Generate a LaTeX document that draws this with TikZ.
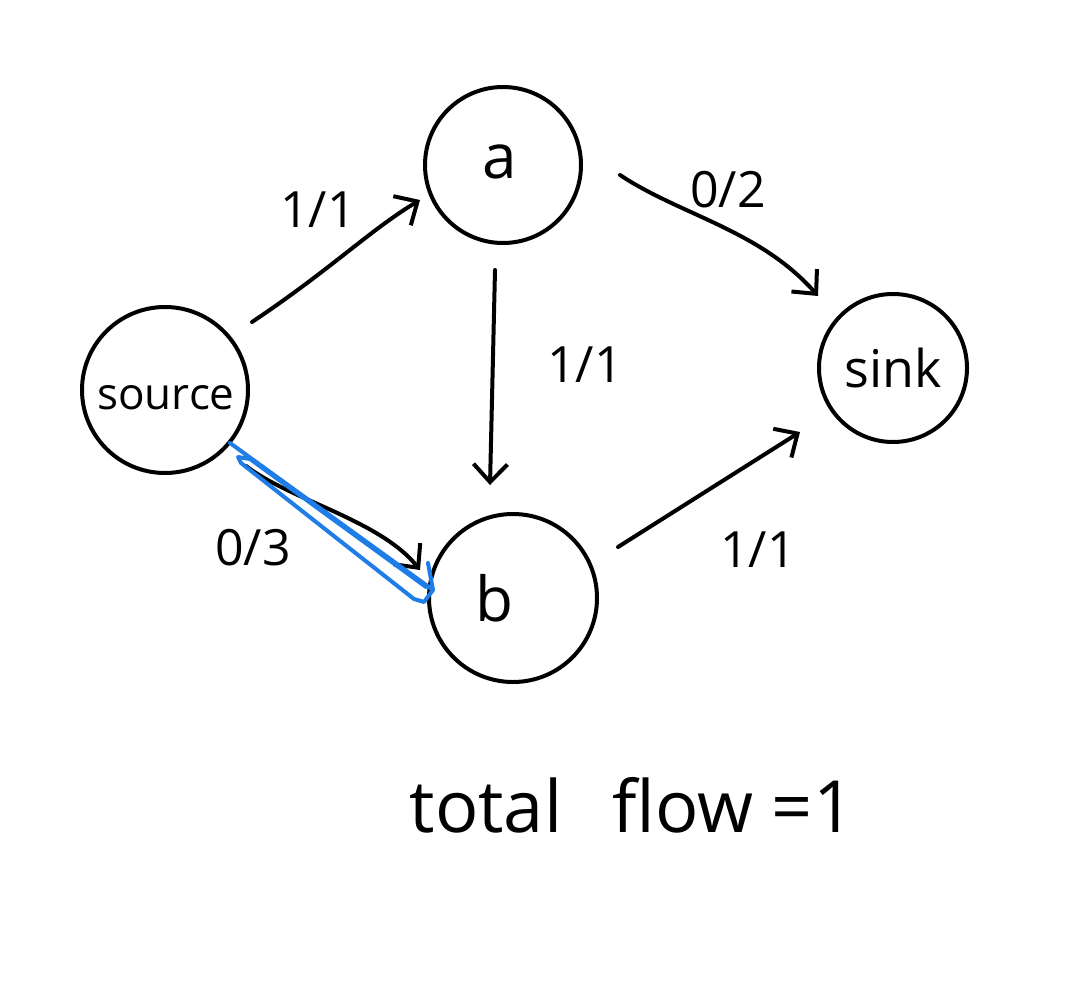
\documentclass[tikz,border=0pt]{standalone}
\usepackage{fontspec}
\setmainfont{Open Sans}
\usetikzlibrary{arrows.meta}
\definecolor{penblue}{RGB}{30,125,230}
\tikzset{
  vtx/.style={draw, circle, line width=4pt, inner sep=0pt},
  edge/.style={line width=4pt, -{Straight Barb[length=18pt,width=34pt,line width=4pt]}, line cap=round},
  lbl/.style={font=\fontsize{50}{56}\selectfont},
}
\begin{document}
\begin{tikzpicture}[x=1pt,y=-1pt]
\useasboundingbox (0,0) rectangle (1075,1000);
\node[vtx, minimum size=166pt] (source) at (165,390) {};
\node[font=\fontsize{44}{50}\selectfont] at (166,398) {source};
\node[vtx, minimum size=156pt] (a) at (503,165) {};
\node[font=\fontsize{62}{66}\selectfont] at (500,162) {a};
\node[vtx, minimum size=168pt] (b) at (513,598) {};
\node[font=\fontsize{62}{66}\selectfont] at (494,598) {b};
\node[vtx, minimum size=148pt] (sink) at (893,368) {};
\node[font=\fontsize{52}{56}\selectfont] at (893,368) {sink};

\coordinate (s1) at (252,322); \coordinate (a1) at (420,200);
\draw[edge] (s1) .. controls (330,270) and (370,230) .. (a1);
\node[lbl] (l1) at (318,210) {1/1};

\coordinate (a2) at (495,270); \coordinate (b1) at (490,485);
\draw[edge] (a2) -- (b1);
\node[lbl] (l2) at (585,365) {1/1};

\coordinate (a3) at (620,175); \coordinate (k1) at (818,296);
\draw[edge] (a3) .. controls (680,215) and (760,230) .. (k1);
\node[lbl] (l3) at (728,190) {0/2};

\coordinate (b2) at (618,547); \coordinate (k2) at (800,432);
\draw[edge] (b2) -- (k2);
\node[lbl] (l4) at (758,550) {1/1};

\coordinate (s2) at (246,466); \coordinate (b3) at (420,570);
\draw[edge] (s2) .. controls (290,500) and (380,520) .. (b3);
\node[lbl] (l5) at (253,548) {0/3};

\coordinate (bl1) at (230,443); \coordinate (bl2) at (433,590);
\draw[penblue, line width=4pt, line cap=round, line join=round]
  (bl1) -- (bl2) -- (428,563)
  (bl2) -- (424,602) -- (414,599) -- (241,463) -- (238,457) -- (250,459) -- (426,587);

\node[font=\fontsize{72}{76}\selectfont] (tot) at (632,805) {total\hspace{0.7em}flow =1};
\end{tikzpicture}
\end{document}
